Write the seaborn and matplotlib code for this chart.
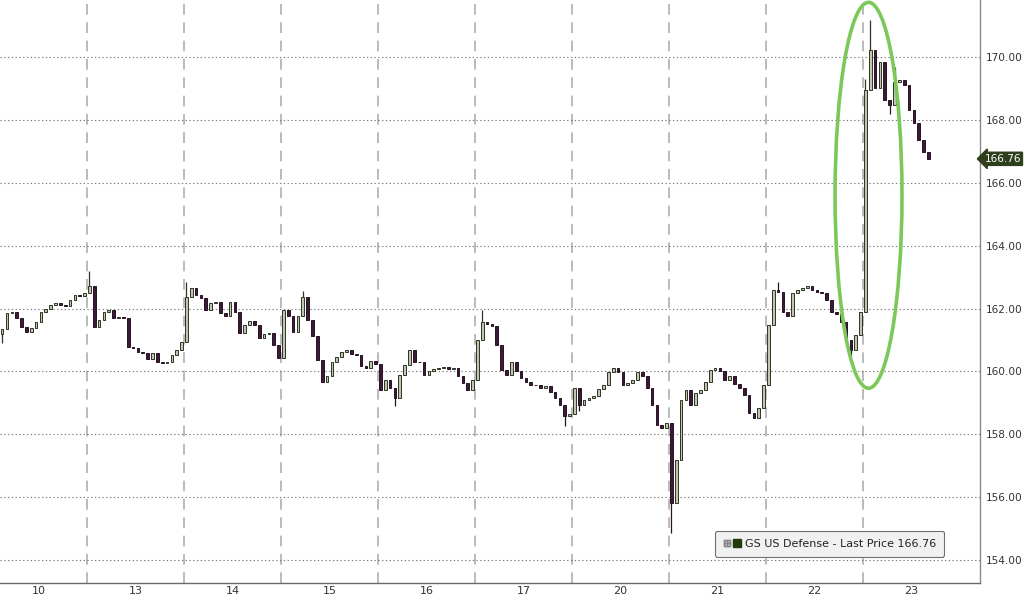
import matplotlib
matplotlib.use("Agg")
import matplotlib.pyplot as plt
from matplotlib.patches import Ellipse, Patch
from matplotlib.lines import Line2D
from matplotlib.legend_handler import HandlerTuple
import seaborn as sns

# ---------------- data ----------------
day_labels = ['10', '13', '14', '15', '16', '17', '20', '21', '22', '23']
BARS_PER_DAY = 20
FIRST_BAR = 2          # first visible bar index of the first day
first_open = 161.2

close_10 = [161.35, 161.85, 161.9, 161.7, 161.4, 161.26, 161.38, 161.57, 161.9, 162.0,
            162.1, 162.17, 162.1, 162.08, 162.27, 162.43, 162.4, 162.5]
close_13 = [162.7, 161.4, 161.65, 161.9, 161.95, 161.7, 161.73, 161.7, 160.78, 160.75,
            160.62, 160.6, 160.4, 160.6, 160.3, 160.27, 160.3, 160.52, 160.68, 160.94]
close_14 = [162.37, 162.65, 162.43, 162.34, 161.96, 162.18, 162.2, 161.86, 161.77, 162.2,
            161.9, 161.22, 161.48, 161.6, 161.48, 161.07, 161.2, 161.22, 160.84, 160.43]
close_15 = [161.96, 161.77, 161.26, 161.77, 162.37, 161.64, 161.13, 160.37, 159.67, 159.86,
            160.3, 160.46, 160.62, 160.68, 160.56, 160.52, 160.17, 160.1, 160.33, 160.24]
close_16 = [159.41, 159.73, 159.48, 159.16, 159.9, 160.2, 160.68, 160.3, 160.3, 159.9,
            160.0, 160.08, 160.1, 160.14, 160.08, 160.1, 159.86, 159.63, 159.41, 159.73]
close_17 = [161.0, 161.57, 161.5, 161.45, 160.84, 160.05, 159.9, 160.3, 160.0, 159.8,
            159.67, 159.57, 159.57, 159.48, 159.54, 159.35, 159.16, 158.93, 158.58, 158.65]
close_20 = [159.48, 158.93, 159.1, 159.16, 159.22, 159.44, 159.57, 159.98, 160.1, 159.98,
            159.57, 159.63, 159.73, 159.98, 159.86, 159.48, 158.93, 158.3, 158.2, 158.36]
close_21 = [155.8, 157.19, 159.09, 159.41, 158.93, 159.32, 159.41, 159.67, 160.05, 160.1,
            160.0, 159.73, 159.86, 159.6, 159.48, 159.25, 158.68, 158.52, 158.84, 159.57]
close_22 = [161.48, 162.6, 162.53, 161.9, 161.77, 162.5, 162.6, 162.66, 162.72, 162.6,
            162.53, 162.5, 162.27, 161.9, 161.83, 161.57, 161.0, 160.68, 161.16, 161.9]
close_23 = [168.95, 170.22, 169.0, 169.84, 168.63, 168.47, 169.2, 169.27, 169.1, 168.31,
            167.9, 167.36, 166.98, 166.76]
closes_by_day = [close_10, close_13, close_14, close_15, close_16,
                 close_17, close_20, close_21, close_22, close_23]

# wick extremes that reach beyond the candle bodies: (day, bar) -> price
wick_high = {('13', 0): 163.2, ('14', 0): 162.85, ('15', 4): 162.55, ('17', 1): 161.95,
             ('22', 2): 162.85, ('23', 0): 169.3, ('23', 1): 171.18, ('23', 6): 169.68}
wick_low = {('10', 2): 160.9, ('16', 3): 158.9, ('17', 18): 158.25, ('20', 1): 158.75,
            ('21', 0): 154.86, ('22', 17): 160.5, ('23', 5): 168.2}

last_price = 166.76
series_name = "GS US Defense - Last Price"
y_major = [154, 156, 158, 160, 162, 164, 166, 168, 170]
y_minor = [155, 157, 159, 161, 163, 165, 167, 169, 171]

# ---------------- figure ----------------
sns.set_style("white")
plt.rcParams['font.family'] = ['DejaVu Sans']

fig = plt.figure(figsize=(10.24, 5.98), dpi=100)
ax = fig.add_axes([0.0, 0.025, 0.957, 0.975])

UP_FACE, UP_EDGE = '#c2c5b4', '#2c3620'
DN_FACE, DN_EDGE = '#3b1c34', '#2a1226'
body_w = 0.55 / BARS_PER_DAY

prev = first_open
for d, closes in enumerate(closes_by_day):
    start = FIRST_BAR if d == 0 else 0
    for j, c in enumerate(closes):
        k = start + j
        x = d + (k + 0.5) / BARS_PER_DAY
        o = prev
        hi = max(o, c, wick_high.get((day_labels[d], k), -1e9))
        lo = min(o, c, wick_low.get((day_labels[d], k), 1e9))
        up = c >= o
        face, edge = (UP_FACE, UP_EDGE) if up else (DN_FACE, DN_EDGE)
        ax.vlines(x, lo, hi, color=edge, lw=0.9, zorder=3)
        ax.bar(x, abs(c - o), bottom=min(o, c), width=body_w, color=face,
               edgecolor=edge, linewidth=0.7, zorder=4)
        prev = c

# day separators
for d in range(1, len(day_labels)):
    ax.axvline(d, color='#a8a8a8', lw=1.1, ls=(0, (7, 5)), zorder=1)

# axes limits
ax.set_xlim(0.103, 10.206)
ax.set_ylim(153.27, 171.81)

# horizontal dotted grid
for v in y_major:
    ax.axhline(v, color='#7a7a7a', lw=0.8, ls=(0, (1.2, 2.2)), zorder=1)

# x axis
ax.set_xticks([d + 0.5 for d in range(len(day_labels))])
ax.set_xticklabels(day_labels)
ax.tick_params(axis='x', length=0, pad=2, labelsize=8, labelcolor='#333333')

# y axis on right
ax.yaxis.tick_right()
ax.set_yticks(y_major)
ax.set_yticklabels([f"{v:.2f}" for v in y_major])
ax.set_yticks(y_minor, minor=True)
ax.tick_params(axis='y', which='major', direction='out', length=3, width=1,
               color='#444444', pad=1, labelsize=7.6, labelcolor='#333333')
ax.tick_params(axis='y', which='minor', direction='out', length=3.5, width=0.8,
               color='#777777')
for t in ax.yaxis.get_major_ticks():
    t.tick2line.set_marker('>')
    t.tick2line.set_markersize(3.5)

sns.despine(ax=ax, left=True, top=True, right=False, bottom=False)
ax.spines['right'].set_color('#8a8a8a')
ax.spines['bottom'].set_color('#6a6a6a')
ax.spines['right'].set_linewidth(1)
ax.spines['bottom'].set_linewidth(1)

# highlight ellipse around the jump
ax.add_patch(Ellipse((9.057, 165.6), 0.69, 12.27, fill=False, ec='#7cc95a', lw=2.6,
                     zorder=6))

# last price tag
ax.text(1.0045, last_price, f"{last_price:.2f}", transform=ax.get_yaxis_transform(),
        ha='left', va='center', color='white', fontsize=7.6, clip_on=False,
        bbox=dict(boxstyle='larrow,pad=0.15', fc='#2f3f1c', ec='#2f3f1c'))

# legend
icon = Line2D([], [], ls='none', marker=r'$\boxplus$', color='#888888', markersize=5)
swatch = Patch(fc='#1f3a0b', ec='#1f3a0b')
leg = ax.legend([(icon, swatch)], [f"{series_name} {last_price:.2f}"],
                handler_map={tuple: HandlerTuple(ndivide=None, pad=0.2)},
                loc='lower right', bbox_to_anchor=(0.969, 0.036), fontsize=8,
                frameon=True, fancybox=True, framealpha=1, facecolor='#f1f1f1',
                edgecolor='#6f6f6f', handlelength=1.6, handletextpad=0.4,
                borderpad=0.7)
leg.get_frame().set_linewidth(0.8)
for txt in leg.get_texts():
    txt.set_color('#222222')
leg.set_zorder(7)

fig.savefig("out.png", dpi=100)
